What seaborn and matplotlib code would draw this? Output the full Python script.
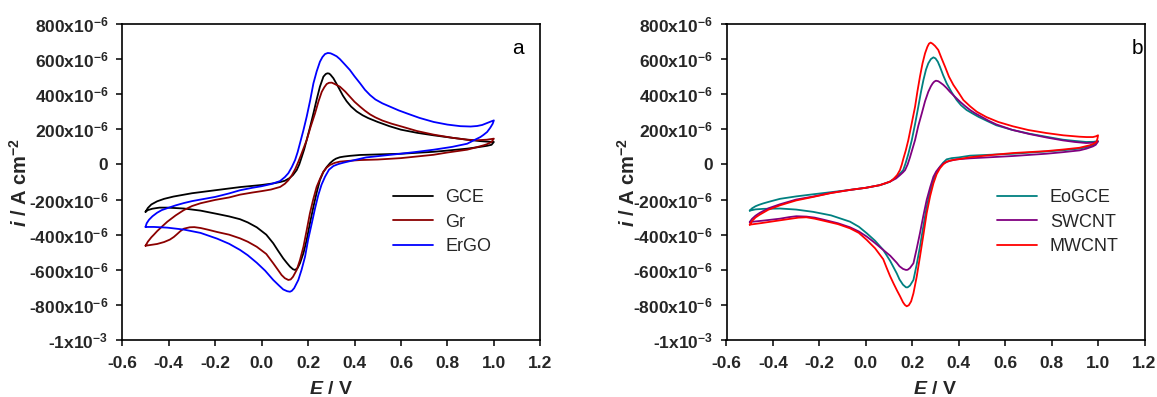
import os
import numpy as np
import pandas as pd
import matplotlib
matplotlib.use("Agg")
import matplotlib.pyplot as plt
from matplotlib import font_manager as fm
import seaborn as sns

# ---------------- data (E in V, i in µA cm^-2) ----------------
# Panel a : forward scan then reverse scan
gce_E = [-0.5, -0.49, -0.475, -0.45, -0.42, -0.38, -0.3, -0.2, -0.093, 0.0, 0.05, 0.08, 0.1, 0.12, 0.135, 0.151, 0.162, 0.172, 0.183, 0.194, 0.209, 0.223, 0.237, 0.251, 0.266, 0.276, 0.283, 0.29, 0.296, 0.309, 0.323, 0.337, 0.35, 0.366, 0.385, 0.409, 0.435, 0.459, 0.5, 0.55, 0.6, 0.67, 0.74, 0.82, 0.885, 0.94, 0.98, 1.0,
         0.99, 0.97, 0.93, 0.885, 0.8, 0.74, 0.6, 0.5, 0.424, 0.38, 0.355, 0.337, 0.32, 0.309, 0.295, 0.28, 0.265, 0.251, 0.237, 0.223, 0.208, 0.194, 0.18, 0.165, 0.155, 0.144, 0.135, 0.122, 0.108, 0.093, 0.07, 0.05, 0.02, -0.021, -0.06, -0.093, -0.14, -0.191, -0.263, -0.335, -0.406, -0.44, -0.47, -0.49, -0.5]
gce_i = [-270, -248, -228, -210, -196, -183, -164, -147, -129, -117, -108, -100, -93, -78, -60, -32, 0, 40, 85, 139, 215, 291, 370, 443, 500, 515, 519, 518, 512, 491, 458, 424, 392, 360, 330, 302, 280, 264, 242, 218, 198, 180, 166, 152, 141, 133, 129, 128,
         112, 106, 98, 90, 79, 72, 61, 57, 54, 49, 45, 41, 33, 24, 8, -15, -45, -89, -160, -241, -335, -430, -505, -563, -590, -601, -597, -582, -560, -535, -490, -449, -400, -358, -330, -312, -296, -282, -263, -251, -246, -246, -252, -260, -270]

gr_E = [-0.5, -0.49, -0.475, -0.464, -0.45, -0.43, -0.406, -0.37, -0.335, -0.3, -0.263, -0.2, -0.14, -0.093, -0.04, 0.0, 0.04, 0.08, 0.1, 0.115, 0.13, 0.145, 0.158, 0.17, 0.18, 0.194, 0.21, 0.23, 0.245, 0.259, 0.27, 0.28, 0.29, 0.302, 0.315, 0.337, 0.36, 0.38, 0.4, 0.424, 0.445, 0.467, 0.49, 0.52, 0.56, 0.6, 0.67, 0.74, 0.82, 0.885, 0.93, 0.97, 1.0,
        0.99, 0.97, 0.956, 0.92, 0.885, 0.8, 0.74, 0.6, 0.5, 0.424, 0.37, 0.337, 0.315, 0.294, 0.28, 0.266, 0.252, 0.237, 0.222, 0.208, 0.194, 0.18, 0.165, 0.151, 0.135, 0.125, 0.115, 0.1, 0.086, 0.07, 0.05, 0.02, -0.021, -0.06, -0.093, -0.14, -0.191, -0.23, -0.263, -0.29, -0.31, -0.335, -0.35, -0.365, -0.378, -0.395, -0.42, -0.45, -0.5]
gr_i = [-463, -440, -415, -400, -380, -355, -326, -290, -260, -237, -221, -202, -188, -172, -160, -152, -143, -128, -110, -90, -62, -25, 15, 55, 90, 139, 210, 291, 360, 414, 440, 458, 465, 466, 458, 443, 415, 386, 357, 329, 306, 285, 268, 250, 232, 217, 190, 170, 152, 141, 138, 141, 147,
        128, 115, 109, 96, 84, 68, 55, 36, 28, 25, 20, 16, 9, -3, -18, -41, -80, -127, -200, -278, -375, -469, -545, -601, -640, -655, -658, -648, -630, -600, -563, -510, -469, -440, -421, -400, -385, -372, -362, -357, -358, -366, -380, -398, -413, -428, -442, -453, -463]

ergo_E = [-0.5, -0.495, -0.485, -0.47, -0.45, -0.43, -0.406, -0.37, -0.335, -0.3, -0.263, -0.2, -0.14, -0.093, -0.04, 0.0, 0.04, 0.079, 0.1, 0.115, 0.13, 0.144, 0.155, 0.165, 0.18, 0.194, 0.209, 0.223, 0.237, 0.251, 0.262, 0.273, 0.285, 0.297, 0.31, 0.323, 0.337, 0.358, 0.38, 0.4, 0.424, 0.445, 0.467, 0.49, 0.52, 0.555, 0.59, 0.627, 0.68, 0.741, 0.8, 0.856, 0.9, 0.928, 0.95, 0.971, 0.99, 1.0,
          0.995, 0.985, 0.971, 0.955, 0.942, 0.91, 0.885, 0.82, 0.741, 0.67, 0.598, 0.52, 0.45, 0.4, 0.352, 0.33, 0.309, 0.29, 0.273, 0.258, 0.244, 0.23, 0.216, 0.2, 0.187, 0.172, 0.158, 0.14, 0.13, 0.122, 0.11, 0.093, 0.075, 0.05, 0.015, -0.021, -0.06, -0.093, -0.14, -0.191, -0.263, -0.335, -0.406, -0.464, -0.5]
ergo_i = [-356, -335, -315, -295, -275, -260, -249, -233, -220, -209, -200, -185, -165, -147, -133, -124, -112, -95, -72, -50, -15, 25, 70, 120, 195, 272, 365, 462, 530, 585, 612, 629, 635, 633, 625, 616, 600, 570, 538, 502, 462, 425, 395, 370, 348, 328, 308, 290, 265, 242, 227, 218, 216, 219, 225, 236, 246, 251,
          232, 210, 185, 168, 156, 135, 118, 100, 84, 72, 61, 50, 40, 25, 10, 2, -9, -30, -70, -115, -174, -250, -335, -430, -525, -600, -658, -705, -720, -725, -722, -712, -690, -658, -605, -560, -517, -487, -452, -423, -390, -371, -360, -356, -356]

# Panel b
eo_E = [-0.5, -0.49, -0.475, -0.46, -0.442, -0.41, -0.37, -0.3, -0.227, -0.15, -0.068, 0.0, 0.06, 0.085, 0.104, 0.118, 0.13, 0.145, 0.161, 0.172, 0.183, 0.198, 0.212, 0.226, 0.237, 0.248, 0.259, 0.269, 0.28, 0.291, 0.3, 0.31, 0.319, 0.333, 0.348, 0.37, 0.391, 0.41, 0.434, 0.46, 0.484, 0.52, 0.562, 0.63, 0.705, 0.78, 0.849, 0.9, 0.949, 0.98, 1.0,
        0.99, 0.978, 0.95, 0.92, 0.85, 0.777, 0.7, 0.634, 0.55, 0.449, 0.4, 0.37, 0.348, 0.333, 0.319, 0.305, 0.291, 0.276, 0.262, 0.248, 0.233, 0.219, 0.205, 0.19, 0.18, 0.173, 0.16, 0.145, 0.133, 0.105, 0.075, 0.04, 0.004, -0.03, -0.068, -0.15, -0.227, -0.3, -0.37, -0.442, -0.475, -0.5]
eo_i = [-263, -250, -238, -230, -222, -210, -196, -182, -170, -158, -145, -133, -118, -108, -98, -85, -72, -55, -32, 10, 60, 139, 230, 329, 410, 481, 540, 576, 600, 610, 604, 585, 557, 508, 462, 410, 367, 337, 310, 290, 272, 249, 223, 197, 175, 157, 141, 134, 128, 129, 133,
        118, 109, 98, 90, 81, 74, 67, 61, 56, 50, 40, 36, 29, 10, -13, -45, -89, -160, -241, -350, -469, -570, -658, -690, -700, -700, -685, -655, -620, -550, -487, -435, -392, -355, -326, -290, -270, -257, -251, -253, -256, -263]

sw_E = [-0.5, -0.49, -0.475, -0.457, -0.42, -0.37, -0.3, -0.227, -0.15, -0.068, 0.0, 0.06, 0.104, 0.13, 0.146, 0.16, 0.169, 0.18, 0.19, 0.2, 0.212, 0.226, 0.241, 0.255, 0.269, 0.28, 0.288, 0.295, 0.302, 0.312, 0.322, 0.334, 0.348, 0.362, 0.384, 0.406, 0.428, 0.449, 0.47, 0.492, 0.53, 0.562, 0.63, 0.705, 0.78, 0.849, 0.9, 0.949, 0.98, 1.0,
        0.99, 0.978, 0.95, 0.92, 0.85, 0.777, 0.7, 0.634, 0.55, 0.449, 0.391, 0.36, 0.334, 0.315, 0.303, 0.291, 0.277, 0.262, 0.248, 0.233, 0.219, 0.205, 0.19, 0.18, 0.173, 0.16, 0.145, 0.133, 0.105, 0.075, 0.04, 0.004, -0.03, -0.068, -0.12, -0.184, -0.22, -0.256, -0.299, -0.33, -0.37, -0.442, -0.5]
sw_i = [-328, -310, -292, -276, -250, -227, -200, -183, -162, -145, -133, -118, -98, -80, -62, -45, -32, 0, 40, 85, 139, 220, 291, 360, 414, 445, 462, 472, 477, 474, 465, 453, 435, 414, 385, 357, 332, 310, 292, 276, 248, 228, 197, 173, 153, 137, 128, 122, 124, 131,
        112, 103, 90, 80, 70, 61, 54, 48, 42, 35, 29, 20, 6, -20, -40, -70, -130, -202, -290, -392, -480, -563, -590, -600, -601, -595, -580, -560, -520, -487, -448, -411, -382, -358, -335, -314, -303, -297, -295, -300, -309, -320, -328]

mw_E = [-0.5, -0.49, -0.475, -0.457, -0.42, -0.37, -0.3, -0.227, -0.15, -0.068, 0.0, 0.06, 0.104, 0.12, 0.135, 0.147, 0.155, 0.161, 0.172, 0.183, 0.197, 0.212, 0.222, 0.233, 0.244, 0.255, 0.265, 0.272, 0.279, 0.287, 0.298, 0.312, 0.326, 0.341, 0.358, 0.377, 0.4, 0.42, 0.45, 0.478, 0.519, 0.57, 0.634, 0.7, 0.777, 0.85, 0.92, 0.95, 0.978, 0.99, 1.0,
        0.997, 0.993, 0.98, 0.964, 0.92, 0.85, 0.777, 0.7, 0.634, 0.55, 0.449, 0.4, 0.37, 0.348, 0.333, 0.319, 0.305, 0.291, 0.277, 0.262, 0.248, 0.233, 0.219, 0.205, 0.195, 0.185, 0.176, 0.168, 0.16, 0.147, 0.135, 0.12, 0.104, 0.09, 0.075, 0.04, 0.004, -0.03, -0.068, -0.12, -0.184, -0.22, -0.256, -0.29, -0.327, -0.399, -0.45, -0.5]
mw_i = [-343, -322, -302, -286, -258, -233, -205, -185, -163, -145, -133, -118, -98, -82, -60, -32, 0, 30, 80, 139, 230, 329, 415, 500, 575, 633, 670, 688, 694, 688, 675, 652, 605, 557, 500, 453, 408, 367, 330, 300, 270, 242, 217, 196, 179, 166, 158, 156, 156, 160, 166,
        145, 128, 117, 109, 95, 85, 76, 70, 65, 55, 41, 30, 24, 16, 0, -22, -55, -108, -180, -278, -400, -526, -640, -734, -780, -802, -808, -800, -785, -750, -720, -680, -635, -590, -540, -478, -430, -390, -364, -340, -320, -309, -301, -303, -310, -324, -334, -343]

labels_a = ["GCE", "Gr", "ErGO"]
labels_b = ["EoGCE", "SWCNT", "MWCNT"]
colors_a = ["#000000", "#8B0000", "#0000FF"]
colors_b = ["#008080", "#800080", "#FF0000"]

x_ticks = [-0.6, -0.4, -0.2, 0.0, 0.2, 0.4, 0.6, 0.8, 1.0, 1.2]
x_ticklabels = ["-0.6", "-0.4", "-0.2", "0.0", "0.2", "0.4", "0.6", "0.8", "1.0", "1.2"]
y_ticks = [-1e-3, -800e-6, -600e-6, -400e-6, -200e-6, 0, 200e-6, 400e-6, 600e-6, 800e-6]
y_ticklabels = ["-1x10$^{-3}$", "-800x10$^{-6}$", "-600x10$^{-6}$", "-400x10$^{-6}$", "-200x10$^{-6}$",
                "0", "200x10$^{-6}$", "400x10$^{-6}$", "600x10$^{-6}$", "800x10$^{-6}$"]

# ---------------- style ----------------
# keep only normal-width faces so that bold text does not fall on a narrow face
fm.fontManager.ttflist = [f for f in fm.fontManager.ttflist
                          if 'narrow' not in os.path.basename(f.fname).lower()
                          and 'narrow' not in f.name.lower()]

sns.set_theme(style="ticks")
plt.rcParams['font.family'] = ['Liberation Sans', 'DejaVu Sans']
plt.rcParams['mathtext.fontset'] = 'custom'
plt.rcParams['mathtext.rm'] = 'Liberation Sans'
plt.rcParams['mathtext.it'] = 'Liberation Sans:italic'
plt.rcParams['mathtext.bf'] = 'Liberation Sans:bold'
plt.rcParams['mathtext.bfit'] = 'Liberation Sans:italic:bold'
plt.rcParams['mathtext.default'] = 'bf'
plt.rcParams['axes.unicode_minus'] = False

fig = plt.figure(figsize=(11.57, 3.97), dpi=100)
W, H = 1157, 397
ax_a = fig.add_axes([122.3 / W, 57 / H, 418 / W, 316 / H])
ax_b = fig.add_axes([726.5 / W, 57 / H, 418 / W, 316 / H])


def draw(ax, curves, labels, colors, letter, lx):
    for (E, I), lab, col in zip(curves, labels, colors):
        df = pd.DataFrame({"E": E, "i": np.array(I) * 1e-6})
        sns.lineplot(data=df, x="E", y="i", sort=False, estimator=None, color=col,
                     lw=1.3, label=lab, ax=ax)
    ax.set_xlim(-0.6, 1.2)
    ax.set_ylim(-1e-3, 800e-6)
    ax.set_xticks(x_ticks)
    ax.set_xticklabels(x_ticklabels, fontweight='bold', fontsize=12.5)
    ax.set_yticks(y_ticks)
    ax.set_yticklabels(y_ticklabels, fontweight='bold', fontsize=12.5)
    ax.tick_params(axis='both', direction='out', length=4, width=1.1, color='black',
                   top=False, right=False)
    ax.tick_params(axis='x', pad=7.5)
    ax.tick_params(axis='y', pad=6)
    for s in ax.spines.values():
        s.set_visible(True)
        s.set_linewidth(1.2)
        s.set_color('black')
    ax.set_xlabel(r"$\mathbfit{E}$ / V", fontsize=14, fontweight='bold')
    ax.set_ylabel(r"$\mathbfit{i}$ / A cm$^{-2}$", fontsize=14.5, fontweight='bold')
    ax.xaxis.set_label_coords(0.5, -50 / 316)
    ax.xaxis.label.set_va('center')
    ax.yaxis.set_label_coords(lx, 0.5)
    ax.yaxis.label.set_va('center')
    ax.text(letter[1], 0.924, letter[0], transform=ax.transAxes, fontsize=15,
            ha='center', va='center', color='black')
    ax.legend(loc='upper left', bbox_to_anchor=(0.648, 0.478), frameon=False,
              fontsize=13, handlelength=2.2, handletextpad=0.7, labelspacing=0.42,
              borderpad=0, borderaxespad=0)
    ax.set_facecolor('white')


draw(ax_a, [(gce_E, gce_i), (gr_E, gr_i), (ergo_E, ergo_i)], labels_a, colors_a, ("a", 0.947), -102 / 418)
draw(ax_b, [(eo_E, eo_i), (sw_E, sw_i), (mw_E, mw_i)], labels_b, colors_b, ("b", 0.982), -98.5 / 418)

fig.savefig("out.png", dpi=100, facecolor='white')
